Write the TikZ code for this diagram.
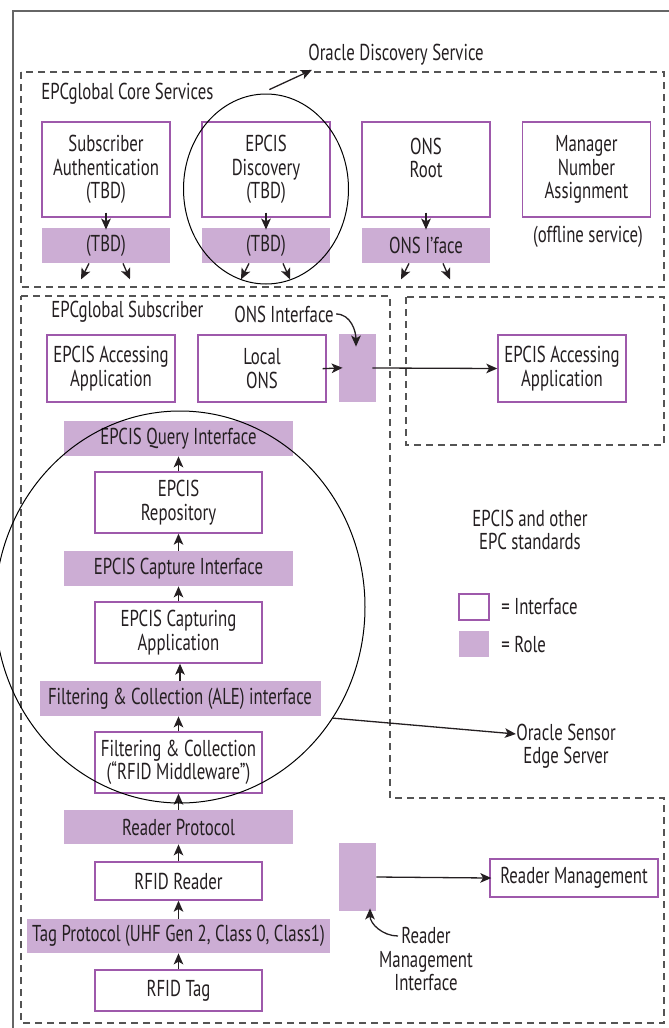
\documentclass[tikz,border=0pt]{standalone}
\usepackage{fontspec}
\setmainfont{PT Sans}[FakeStretch=0.73]
\usetikzlibrary{arrows.meta,shapes.geometric}

\definecolor{epcpurple}{rgb}{0.62,0.35,0.67}
\definecolor{epcrole}{rgb}{0.80,0.68,0.83}
\definecolor{epcdash}{rgb}{0.33,0.33,0.33}
\definecolor{epcframe}{rgb}{0.40,0.40,0.40}
\definecolor{epcink}{rgb}{0.14,0.12,0.13}

\tikzset{
  sz/.style 2 args={minimum width=#1*0.5pt,minimum height=#2*0.5pt},
  iface/.style={draw=epcpurple,line width=0.7pt,fill=white,align=center,inner sep=0pt},
  role/.style={fill=epcrole,align=center,inner sep=0pt},
  grp/.style={draw=epcdash,line width=0.6pt,dash pattern=on 3.5pt off 2.5pt},
  arr/.style={-{Stealth[length=5.5pt,width=4.8pt,inset=1.4pt]},line width=0.65pt,draw=epcink},
  lbl/.style={align=center,inner sep=0pt},
  ring/.style={draw,ellipse,line width=0.5pt,inner sep=0pt},
}

\begin{document}
\begin{tikzpicture}[x=0.5pt,y=-0.5pt,font=\fontsize{11.5}{11.7}\selectfont,text=epcink]
\useasboundingbox (0,0) rectangle (669,1028);
% outer frame (runs off the page at right and bottom)
\draw[epcframe,line width=1pt] (13,11) rectangle (700,1050);

% dashed groups
\draw[grp] (21,72) rectangle (664,287);
\draw[grp] (21,296) -- (390,296) -- (390,798) -- (664,798) -- (664,1023) -- (21,1023) -- cycle;
\draw[grp] (406,297) rectangle (664,445);

% core services
\node[lbl,anchor=west] (coretitle) at (41,94) {EPCglobal Core Services};
\node[iface,sz={128}{95}] (subauth) at (106,169.5) {Subscriber\\Authentication\\(TBD)};
\node[iface,sz={128}{95}] (epcisdisc) at (266,169.5) {EPCIS\\Discovery\\(TBD)};
\node[iface,sz={128}{95}] (onsroot) at (426,169.5) {ONS\\Root\\\mbox{}};
\node[iface,sz={128}{95}] (mgrnum) at (586.5,169.5) {Manager\\Number\\Assignment};
\node[role,sz={128}{35}] (subtbd) at (106,245.5) {(TBD)};
\node[role,sz={128}{35}] (disctbd) at (266,245.5) {(TBD)};
\node[role,sz={128}{35}] (onsiface) at (426,245.5) {ONS I'face};
\node[lbl] (offline) at (588,237) {(offline service)};
\foreach \b/\r in {subauth/subtbd,epcisdisc/disctbd,onsroot/onsiface} {
  \draw[arr,shorten <=-2.5pt,shorten >=-1pt] (\b.south) -- (\r.north);
  \draw[arr] ([xshift=-8.5pt]\r.south) -- ++(-8,16);
  \draw[arr] ([xshift=8.5pt]\r.south) -- ++(7,16);
}
\node[lbl] (odsname) at (396,55) {Oracle Discovery Service};
\node[ring,sz={165}{190}] (discring) at (266,189) {};
\draw[arr] ([yshift=2pt]discring.88) -- ([xshift=2pt,yshift=-2pt]odsname.south west);

% subscriber
\node[lbl,anchor=west] (subtitle) at (51,312) {EPCglobal Subscriber};
\node[lbl] (onsiflbl) at (284,314) {ONS Interface};
\node[iface,sz={128}{67}] (laccess) at (111,368.5) {EPCIS Accessing\\Application};
\node[iface,sz={128}{67}] (localons) at (262,368.5) {Local\\ONS};
\node[role,sz={37}{68}] (onsport) at (357.5,368) {};
\node[iface,sz={128}{67}] (raccess) at (562,368.5) {EPCIS Accessing\\Application};
\draw[arr,shorten <=-2pt,shorten >=-2pt] (localons.east) -- (onsport.west);
\draw[arr,shorten <=-2pt] (onsport.east) -- (raccess.west);
\draw[arr] ([xshift=1pt]onsiflbl.east) to[out=0,in=90] ([xshift=-0.75pt,yshift=-6.5pt]onsport.north);

% capture stack
\node[role,sz={229}{35}] (qryif) at (178.5,438.5) {EPCIS Query Interface};
\node[iface,sz={167}{61}] (repo) at (178.5,502.5) {EPCIS\\Repository};
\node[role,sz={229}{35}] (capif) at (178.5,568.5) {EPCIS Capture Interface};
\node[iface,sz={167}{61}] (capapp) at (178.5,632.5) {EPCIS Capturing\\Application};
\node[role,sz={281}{35}] (aleif) at (180,698.5) {Filtering \& Collection (ALE) interface};
\node[iface,sz={167}{61}] (mware) at (178.5,762.5) {Filtering \& Collection\\(``RFID Middleware'')};
\node[role,sz={229}{34}] (rdrproto) at (178.5,827) {Reader Protocol};
\node[iface,sz={167}{38}] (rfidrdr) at (178.5,881) {RFID Reader};
\node[role,sz={303}{34}] (tagproto) at (178.5,936) {Tag Protocol (UHF Gen 2, Class 0, Class1)};
\node[iface,sz={167}{41}] (rfidtag) at (178.5,990.5) {RFID Tag};
\foreach \lo/\hi in {rfidtag/tagproto,tagproto/rfidrdr,rfidrdr/rdrproto,rdrproto/mware,
    mware/aleif,aleif/capapp,capapp/capif,capif/repo,repo/qryif}
  \draw[arr] (\lo.north) -- (\lo.north |- \hi.south);

% right side: standards note and legend
\node[lbl] (stdnote) at (530,530) {EPCIS and other\\EPC standards};
\node[iface,sz={30}{26}] (legif) at (474,607) {};
\node[lbl,anchor=west] (legiftxt) at (501,607) {= Interface};
\node[role,sz={30}{26}] (legrole) at (474,644) {};
\node[lbl,anchor=west] (legroletxt) at (501,644) {= Role};

% sensor edge server ring
\node[ring,sz={370}{392}] (sensring) at (180,607) {};
\node[lbl] (sesname) at (566,746) {Oracle Sensor\\Edge Server};
\draw[arr] (sensring.-36) -- ([yshift=6pt]sesname.west);

% reader management
\node[role,sz={37}{68}] (rmport) at (357.5,877) {};
\node[iface,sz={168}{38}] (rdrmgmt) at (574,878) {Reader Management};
\draw[arr,shorten >=-1pt] (rmport.east) -- (rdrmgmt.west);
\node[lbl] (rmlbl) at (426,959) {Reader\\Management\\Interface};
\coordinate (rmtail) at (398,936);
\draw[arr] (rmtail) to[out=180,in=-90] ([xshift=6.25pt,yshift=1.5pt]rmport.south);
\end{tikzpicture}
\end{document}
